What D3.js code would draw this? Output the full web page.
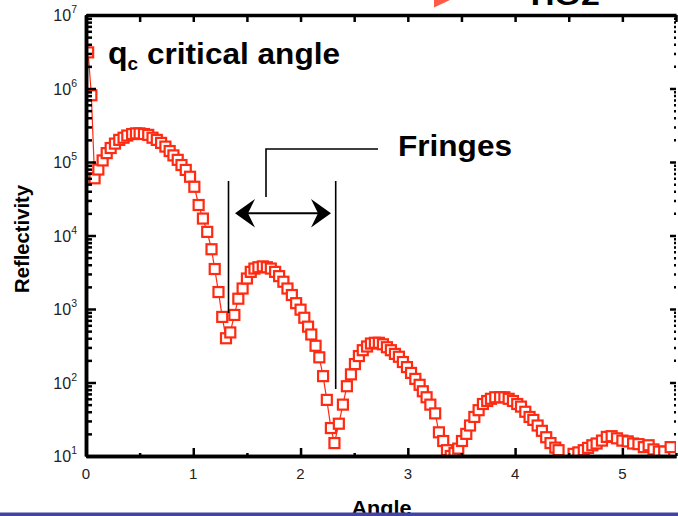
<!DOCTYPE html>
<html>
<head>
<meta charset="utf-8">
<script src="https://cdn.jsdelivr.net/npm/d3@7"></script>
<style>
  body { margin: 0; background: #fff; }
  svg { display: block; }
  text { font-family: Arial, "Liberation Sans", sans-serif; }
</style>
</head>
<body>
<script>
// measured XRR curve (angle in degrees, reflectivity counts)
const angle = [
  0.02, 0.05, 0.08, 0.115, 0.155, 0.193, 0.23, 0.27, 0.31, 0.35, 0.385, 0.43, 0.466, 0.50, 0.54, 0.58,
  0.62, 0.66, 0.70, 0.74, 0.78, 0.815, 0.855, 0.89, 0.93, 0.97, 1.01, 1.05, 1.09, 1.13, 1.17, 1.20,
  1.235, 1.27, 1.305, 1.345, 1.383, 1.42, 1.46, 1.50, 1.536, 1.57, 1.607, 1.648, 1.686, 1.723, 1.763, 1.80,
  1.84, 1.878, 1.919, 1.959, 2.00, 2.035, 2.07, 2.10, 2.14, 2.175, 2.21, 2.245, 2.283, 2.316, 2.357, 2.395,
  2.432, 2.47, 2.507, 2.544, 2.58, 2.62, 2.656, 2.693, 2.73, 2.768, 2.805, 2.842, 2.88, 2.917, 2.954, 2.992,
  3.03, 3.07, 3.11, 3.14, 3.175, 3.21, 3.255, 3.29, 3.33, 3.365, 3.40, 3.435, 3.47, 3.505, 3.545, 3.58,
  3.62, 3.66, 3.70, 3.74, 3.775, 3.815, 3.86, 3.90, 3.94, 3.98, 4.02, 4.055, 4.095, 4.135, 4.17, 4.21,
  4.25, 4.29, 4.33, 4.375, 4.405, 4.44, 4.48, 4.51, 4.545, 4.59, 4.64, 4.68, 4.72, 4.76, 4.81, 4.855,
  4.90, 4.95, 5.00, 5.05, 5.10, 5.15, 5.20, 5.245, 5.29, 5.34, 5.39, 5.45
];
const reflectivity = [
  3.1e6, 8.1e5, 6.0e4, 7.9e4, 1.05e5, 1.32e5, 1.55e5, 1.78e5, 2.0e5, 2.14e5, 2.29e5, 2.4e5, 2.45e5, 2.45e5, 2.4e5, 2.34e5,
  2.14e5, 2.0e5, 1.82e5, 1.62e5, 1.41e5, 1.23e5, 1.07e5, 9.1e4, 7.8e4, 6.3e4, 4.6e4, 2.6e4, 1.7e4, 1.12e4, 6.5e3, 3.5e3,
  1.7e3, 780, 400, 480, 830, 1380, 1900, 2600, 3200, 3550, 3700, 3800, 3700, 3550, 3200, 2800,
  2350, 1900, 1550, 1200, 980, 760, 575, 450, 316, 220, 122, 58, 24, 15, 27.5, 50,
  89, 129, 178, 229, 275, 309, 339, 347, 347, 331, 302, 275, 245, 224, 190, 162,
  135, 112, 93, 76, 63, 50, 38, 21, 16, 12, 10, 11, 12.6, 16, 20, 26,
  34, 42, 51, 56, 60, 63, 63, 63, 60, 56, 51, 47, 40, 34, 31, 26,
  22, 18, 15, 13, 12, 8, 7, 8.3, 10.7, 11.2, 12, 12.9, 14, 14.8, 16.2, 18.2,
  18.6, 17.4, 16.2, 15.8, 14.8, 14.5, 13.2, 14, 12.3, 11.5, 11.5, 13.2
];
const xTicks = [0, 1, 2, 3, 4, 5];
const xHalfTicks = [0.5, 1.5, 2.5, 3.5, 4.5, 5.5];
const yExponents = [1, 2, 3, 4, 5, 6, 7];

const width = 678, height = 516;
const plotLeft = 86, plotRight = 676, plotTop = 15, plotBottom = 456;
const red = "#ff2a12";

const svg = d3.select("body").append("svg")
  .attr("width", width)
  .attr("height", height);

const x = d3.scaleLinear().domain([0, 5.5]).range([plotLeft, plotRight]);
const y = d3.scaleLog().domain([10, 1e7]).range([plotBottom, plotTop]);

const data = angle.map((a, i) => ({ a: a, r: reflectivity[i] }));

const yMajor = yExponents.map(e => Math.pow(10, e));
const yMinor = [];
yExponents.slice(0, -1).forEach(e => {
  for (let k = 2; k <= 9; k++) yMinor.push(k * Math.pow(10, e));
});

svg.append("clipPath").attr("id", "plot")
  .append("rect")
  .attr("x", plotLeft).attr("y", plotTop)
  .attr("width", plotRight - plotLeft).attr("height", plotBottom - plotTop);

// data: thin joining line + open squares
const plot = svg.append("g").attr("clip-path", "url(#plot)");

plot.append("path")
  .datum(data)
  .attr("fill", "none")
  .attr("stroke", red)
  .attr("stroke-width", 1.2)
  .attr("d", d3.line().x(d => x(d.a)).y(d => y(d.r)));

plot.selectAll("rect.pt")
  .data(data)
  .join("rect")
  .attr("class", "pt")
  .attr("x", d => x(d.a) - 5)
  .attr("y", d => y(d.r) - 5)
  .attr("width", 10)
  .attr("height", 10)
  .attr("fill", "#fff")
  .attr("stroke", red)
  .attr("stroke-width", 2.2);

// axes (ticks inside the frame)
function styleAxis(g, w) {
  g.select(".domain").attr("stroke", "#000").attr("stroke-width", w);
  g.selectAll(".tick line").attr("stroke", "#000").attr("stroke-width", 2.5);
}

svg.append("g").attr("transform", `translate(${plotLeft},0)`)
  .call(d3.axisRight(y).tickValues(yMinor).tickSize(6).tickSizeOuter(0).tickFormat(""))
  .call(g => styleAxis(g, 3.5));
svg.append("g").attr("transform", `translate(${plotLeft},0)`)
  .call(d3.axisRight(y).tickValues(yMajor).tickSize(10).tickSizeOuter(0).tickFormat(""))
  .call(g => styleAxis(g, 3.5));

svg.append("g").attr("transform", `translate(${plotRight},0)`)
  .call(d3.axisLeft(y).tickValues(yMinor).tickSize(2).tickSizeOuter(0).tickFormat(""))
  .call(g => styleAxis(g, 0));
svg.append("g").attr("transform", `translate(${plotRight},0)`)
  .call(d3.axisLeft(y).tickValues(yMajor).tickSize(6).tickSizeOuter(0).tickFormat(""))
  .call(g => styleAxis(g, 0));

svg.append("g").attr("transform", `translate(0,${plotBottom})`)
  .call(d3.axisTop(x).tickValues(xHalfTicks).tickSize(3).tickSizeOuter(0).tickFormat(""))
  .call(g => styleAxis(g, 3.5));
svg.append("g").attr("transform", `translate(0,${plotBottom})`)
  .call(d3.axisTop(x).tickValues(xTicks).tickSize(8).tickSizeOuter(0).tickFormat(""))
  .call(g => styleAxis(g, 3.5));

svg.append("g").attr("transform", `translate(0,${plotTop})`)
  .call(d3.axisBottom(x).tickValues(xTicks.concat(xHalfTicks)).tickSize(7).tickSizeOuter(0).tickFormat(""))
  .call(g => styleAxis(g, 3.5));

// tick labels
svg.append("g")
  .selectAll("text")
  .data(xTicks)
  .join("text")
  .attr("x", d => x(d))
  .attr("y", 478.5)
  .attr("text-anchor", "middle")
  .attr("font-size", 15)
  .attr("fill", "#222")
  .text(d => d);

const yl = svg.append("g")
  .selectAll("text")
  .data(yExponents)
  .join("text")
  .attr("x", 77)
  .attr("y", d => y(Math.pow(10, d)) + 6)
  .attr("text-anchor", "end")
  .attr("font-size", 16)
  .attr("fill", "#222");
yl.append("tspan").text("10");
yl.append("tspan").attr("dy", -8).attr("font-size", 10.5).text(d => d);

// axis titles
svg.append("text")
  .attr("transform", "translate(29,239) rotate(-90)")
  .attr("text-anchor", "middle")
  .attr("font-size", 20)
  .attr("font-weight", "bold")
  .attr("textLength", 108)
  .attr("lengthAdjust", "spacingAndGlyphs")
  .text("Reflectivity");

svg.append("text")
  .attr("x", 351.5)
  .attr("y", 514.5)
  .attr("font-size", 20)
  .attr("font-weight", "bold")
  .attr("textLength", 60)
  .attr("lengthAdjust", "spacingAndGlyphs")
  .text("Angle");

// annotations
const qc = svg.append("text")
  .attr("x", 108)
  .attr("y", 64)
  .attr("font-size", 32)
  .attr("font-weight", "bold");
qc.append("tspan").text("q");
qc.append("tspan").attr("dy", 6).attr("font-size", 19).text("c");

svg.append("text")
  .attr("x", 147)
  .attr("y", 64)
  .attr("font-size", 30)
  .attr("font-weight", "bold")
  .attr("textLength", 193)
  .attr("lengthAdjust", "spacingAndGlyphs")
  .text("critical angle");

svg.append("text")
  .attr("x", 398)
  .attr("y", 156)
  .attr("font-size", 29)
  .attr("font-weight", "bold")
  .attr("textLength", 114)
  .attr("lengthAdjust", "spacingAndGlyphs")
  .text("Fringes");

svg.append("text")
  .attr("x", 525)
  .attr("y", 5)
  .attr("font-size", 28)
  .attr("font-weight", "bold")
  .attr("textLength", 75)
  .attr("lengthAdjust", "spacingAndGlyphs")
  .text("TiO2");

svg.append("polygon")
  .attr("points", "434,0 450,0 434,7.5")
  .attr("fill", "#ff5a48");

// fringe period marker
const ann = svg.append("g").attr("stroke", "#000").attr("fill", "none").attr("stroke-width", 1.6);
ann.append("line").attr("x1", 228.5).attr("x2", 228.5).attr("y1", 181).attr("y2", 313);
ann.append("line").attr("x1", 335.7).attr("x2", 335.7).attr("y1", 181).attr("y2", 389);
ann.append("polyline").attr("points", "266,197 266,149 378,149");
ann.append("line").attr("x1", 248).attr("x2", 318).attr("y1", 213.3).attr("y2", 213.3).attr("stroke-width", 2);

svg.append("polygon")
  .attr("points", "235,213.3 255,199 248,213.3 255,227.5")
  .attr("fill", "#000");
svg.append("polygon")
  .attr("points", "331,213.3 311,199 318,213.3 311,227.5")
  .attr("fill", "#000");

// slide rule at the bottom
svg.append("rect")
  .attr("x", 0).attr("y", 512.5)
  .attr("width", width).attr("height", 3.5)
  .attr("fill", "#4343a3");
</script>
</body>
</html>
